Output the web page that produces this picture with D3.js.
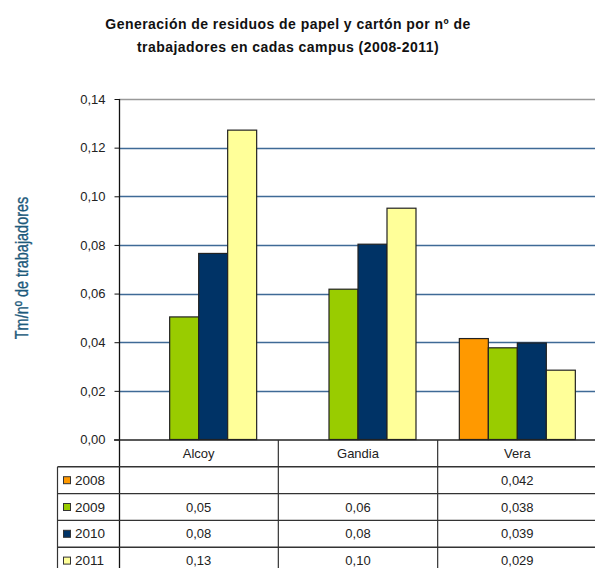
<!DOCTYPE html>
<html><head><meta charset="utf-8">
<script src="https://cdn.jsdelivr.net/npm/d3@7/dist/d3.min.js"></script>
<style>body{margin:0;background:#fff}svg{display:block}text{font-family:"Liberation Sans",Arial,sans-serif}</style>
</head><body>
<svg id="c" width="595" height="568"></svg>
<script>
const categories = ["Alcoy", "Gandia", "Vera"];
const years = ["2008", "2009", "2010", "2011"];
const values2008 = [null, null, 0.0415];
const values2009 = [0.0504, 0.0618, 0.0377];
const values2010 = [0.0765, 0.0803, 0.0397];
const values2011 = [0.1272, 0.0951, 0.0285];
const labels2008 = ["", "", "0,042"];
const labels2009 = ["0,05", "0,06", "0,038"];
const labels2010 = ["0,08", "0,08", "0,039"];
const labels2011 = ["0,13", "0,10", "0,029"];
const yTicks = [0, 0.02, 0.04, 0.06, 0.08, 0.10, 0.12, 0.14];
const colors = ["#ff9900", "#99cc00", "#003366", "#ffff99"];
const titleLines = ["Generación de residuos de papel y cartón por nº de", "trabajadores en cadas campus (2008-2011)"];
const yTitle = "Tm/nº de trabajadores";

const series = [values2008, values2009, values2010, values2011];
const tableLabels = [labels2008, labels2009, labels2010, labels2011];

const svg = d3.select("#c");
const locale = d3.formatLocale({decimal: ",", thousands: ".", grouping: [3], currency: ["", "€"]});
const fmt = locale.format(".2f");

const y = d3.scaleLinear().domain([0, 0.14]).range([439.5, 99]);
const x = d3.scaleBand().domain(categories).range([119, 597]);
const bw = x.bandwidth();
const pad = bw * 0.136;
const xs = d3.scaleBand().domain(years).range([pad, bw - pad]);

// title
svg.append("g").selectAll("text").data(titleLines).join("text")
  .attr("x", 288).attr("y", (d, i) => 29 + i * 23)
  .attr("text-anchor", "middle").attr("font-weight", "bold").attr("font-size", 14)
  .attr("letter-spacing", 0.45)
  .attr("fill", "#111").text(d => d);

// gridlines
svg.append("g").selectAll("line").data(yTicks.filter(d => d > 0)).join("line")
  .attr("x1", 119).attr("x2", 595)
  .attr("y1", d => Math.round(y(d)) + 0.5).attr("y2", d => Math.round(y(d)) + 0.5)
  .attr("stroke", (d, i, a) => i === a.length - 1 ? "#999" : "#3f6a96").attr("stroke-width", 1.6);

// axis
const yAxis = d3.axisLeft(y).tickValues(yTicks).tickFormat(fmt).tickSize(5).tickPadding(9);
const ga = svg.append("g").attr("transform", "translate(119.5,0)").call(yAxis);
ga.select(".domain").attr("d", "M0,99V568").attr("stroke", "#111").attr("stroke-width", 1.3);
ga.selectAll(".tick line").attr("stroke", "#111");
ga.selectAll(".tick text").attr("font-size", 13).attr("fill", "#222").attr("font-family", "Liberation Sans, Arial, sans-serif");

// y title (condensed)
svg.append("text").attr("transform", "translate(28,268) rotate(-90) scale(0.76,1)")
  .attr("text-anchor", "middle").attr("font-size", 19).attr("fill", "#1d5a7c")
  .attr("stroke", "#1d5a7c").attr("stroke-width", 0.35)
  .text(yTitle);

// bars
const barData = [];
series.forEach((s, si) => s.forEach((v, ci) => { if (v != null) barData.push({cat: categories[ci], year: years[si], v, si}); }));
svg.append("g").selectAll("rect").data(barData).join("rect")
  .attr("x", d => x(d.cat) + xs(d.year))
  .attr("y", d => y(d.v))
  .attr("width", xs.bandwidth())
  .attr("height", d => y(0) - y(d.v))
  .attr("fill", d => colors[d.si]).attr("stroke", "#222").attr("stroke-width", 1.2);

// x axis line
svg.append("line").attr("x1", 114).attr("x2", 595).attr("y1", 440).attr("y2", 440).attr("stroke", "#222").attr("stroke-width", 1.4);

// table
const rowTop = 440, rowH = 26.8;
const tg = svg.append("g");
for (let r = 1; r <= years.length + 1; r++) {
  tg.append("line").attr("x1", 57.5).attr("x2", 595)
    .attr("y1", rowTop + r * rowH).attr("y2", rowTop + r * rowH)
    .attr("stroke", "#333").attr("stroke-width", 1.4);
}
tg.append("line").attr("x1", 57.5).attr("x2", 57.5).attr("y1", rowTop + rowH).attr("y2", 568).attr("stroke", "#333").attr("stroke-width", 1.2);
categories.forEach((c, i) => {
  if (i > 0) tg.append("line").attr("x1", x(c)).attr("x2", x(c)).attr("y1", rowTop).attr("y2", 568).attr("stroke", "#333").attr("stroke-width", 1.2);
});
tg.selectAll("text.h").data(categories).join("text").attr("class", "h")
  .attr("x", d => x(d) + bw / 2).attr("y", rowTop + 18)
  .attr("text-anchor", "middle").attr("font-size", 13).attr("fill", "#222").text(d => d);
years.forEach((yr, r) => {
  const top = rowTop + (r + 1) * rowH;
  tg.append("rect").attr("x", 63.5).attr("y", top + rowH / 2 - 3.5).attr("width", 7).attr("height", 7)
    .attr("fill", colors[r]).attr("stroke", "#333").attr("stroke-width", 1);
  tg.append("text").attr("x", 75).attr("y", top + 18).attr("font-size", 13.5).attr("fill", "#222").text(yr);
  tg.selectAll(null).data(tableLabels[r]).join("text")
    .attr("x", (d, i) => x(categories[i]) + bw / 2).attr("y", top + 18)
    .attr("text-anchor", "middle").attr("font-size", 13).attr("fill", "#222").text(d => d);
});
</script>
</body></html>
